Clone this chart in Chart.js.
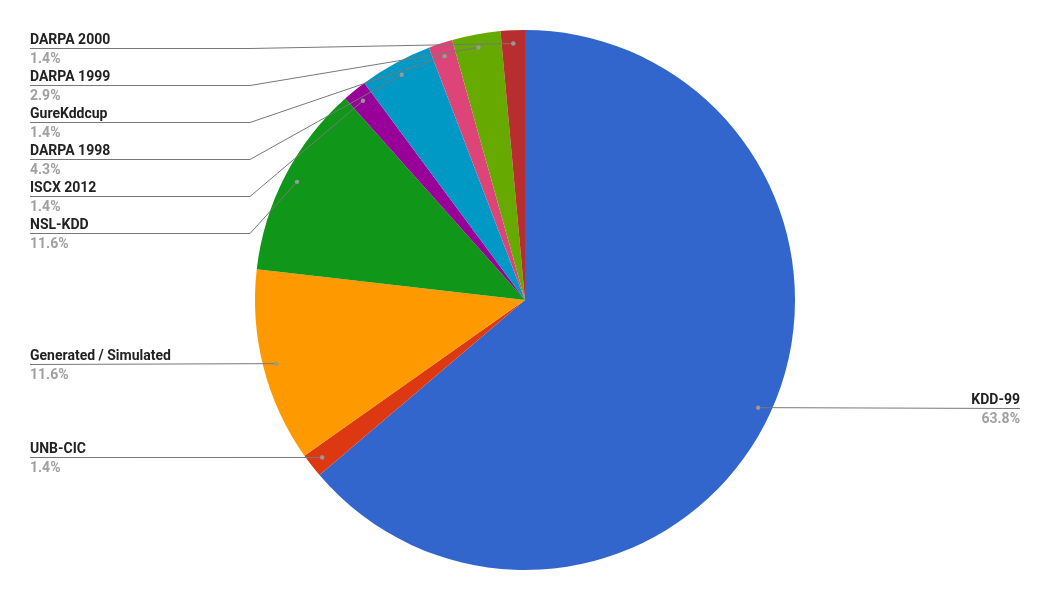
<!DOCTYPE html>
<html>
<head>
<meta charset="utf-8">
<script src="https://cdn.jsdelivr.net/npm/chart.js@4/dist/chart.umd.min.js"></script>
<style>
html,body{margin:0;padding:0;background:#fff;}
#wrap{width:1050px;height:601px;position:relative;}
</style>
</head>
<body>
<div id="wrap"><canvas id="c" width="1050" height="601"></canvas></div>
<script>
const categories = ["KDD-99","UNB-CIC","Generated / Simulated","NSL-KDD","ISCX 2012","DARPA 1998","GureKddcup","DARPA 1999","DARPA 2000"];
const counts = [44,1,8,8,1,3,1,2,1];
const percentLabels = ["63.8%","1.4%","11.6%","11.6%","1.4%","4.3%","1.4%","2.9%","1.4%"];
const colors = ["#3366cc","#dc3912","#ff9900","#109618","#990099","#0099c6","#dd4477","#66aa00","#b82e2e"];

const labelPlugin = {
  id: 'leaderLabels',
  afterDatasetsDraw(chart) {
    const ctx = chart.ctx;
    const meta = chart.getDatasetMeta(0);
    const items = meta.data.map((arc, i) => {
      const p = arc.getProps(['x','y','startAngle','endAngle','outerRadius'], true);
      const mid = (p.startAngle + p.endAngle) / 2;
      const r = p.outerRadius * 0.951;
      const dx = p.x + Math.cos(mid) * r;
      const dy = p.y + Math.sin(mid) * r;
      return {i, dx, dy, cx: p.x, right: dx >= p.x, R: p.outerRadius};
    });
    const gap = 37, minY = 48;
    ['left','right'].forEach(side => {
      const list = items.filter(it => (side === 'right') === it.right).sort((a,b) => a.dy - b.dy);
      let prev = -Infinity;
      list.forEach(it => {
        let y = Math.max(it.dy, minY, prev + gap);
        it.ly = y;
        prev = y;
      });
    });
    ctx.save();
    items.forEach(it => {
      const y = Math.round(it.ly) + 0.5;
      const leftX = 30, rightX = 1020;
      const elbowL = it.cx - it.R - 5, elbowR = it.cx + it.R + 5;
      ctx.strokeStyle = '#777777';
      ctx.lineWidth = 1;
      ctx.beginPath();
      if (it.right) {
        ctx.moveTo(rightX, y);
        if (Math.abs(it.ly - it.dy) > 0.5) { ctx.lineTo(elbowR, y); }
        ctx.lineTo(it.dx, it.dy);
      } else {
        ctx.moveTo(leftX, y);
        if (Math.abs(it.ly - it.dy) > 0.5) { ctx.lineTo(elbowL, y); }
        ctx.lineTo(it.dx, it.dy);
      }
      ctx.stroke();
      ctx.fillStyle = '#999999';
      ctx.beginPath();
      ctx.arc(it.dx, it.dy, 2.2, 0, Math.PI * 2);
      ctx.fill();
      ctx.textBaseline = 'alphabetic';
      ctx.textAlign = it.right ? 'right' : 'left';
      const tx = it.right ? rightX : leftX;
      ctx.font = 'bold 14px Roboto';
      ctx.fillStyle = '#222222';
      ctx.fillText(categories[it.i], tx, Math.round(it.ly) - 4);
      ctx.fillStyle = '#a0a0a0';
      ctx.fillText(percentLabels[it.i], tx, Math.round(it.ly) + 15);
    });
    ctx.restore();
  }
};

new Chart(document.getElementById('c'), {
  type: 'pie',
  data: {
    labels: categories,
    datasets: [{
      data: counts,
      backgroundColor: colors,
      borderWidth: 0,
      hoverOffset: 0
    }]
  },
  options: {
    responsive: false,
    animation: false,
    layout: { padding: { top: 30, bottom: 31, left: 0, right: 0 } },
    plugins: {
      legend: { display: false },
      tooltip: { enabled: false }
    }
  },
  plugins: [labelPlugin]
});
</script>
</body>
</html>
